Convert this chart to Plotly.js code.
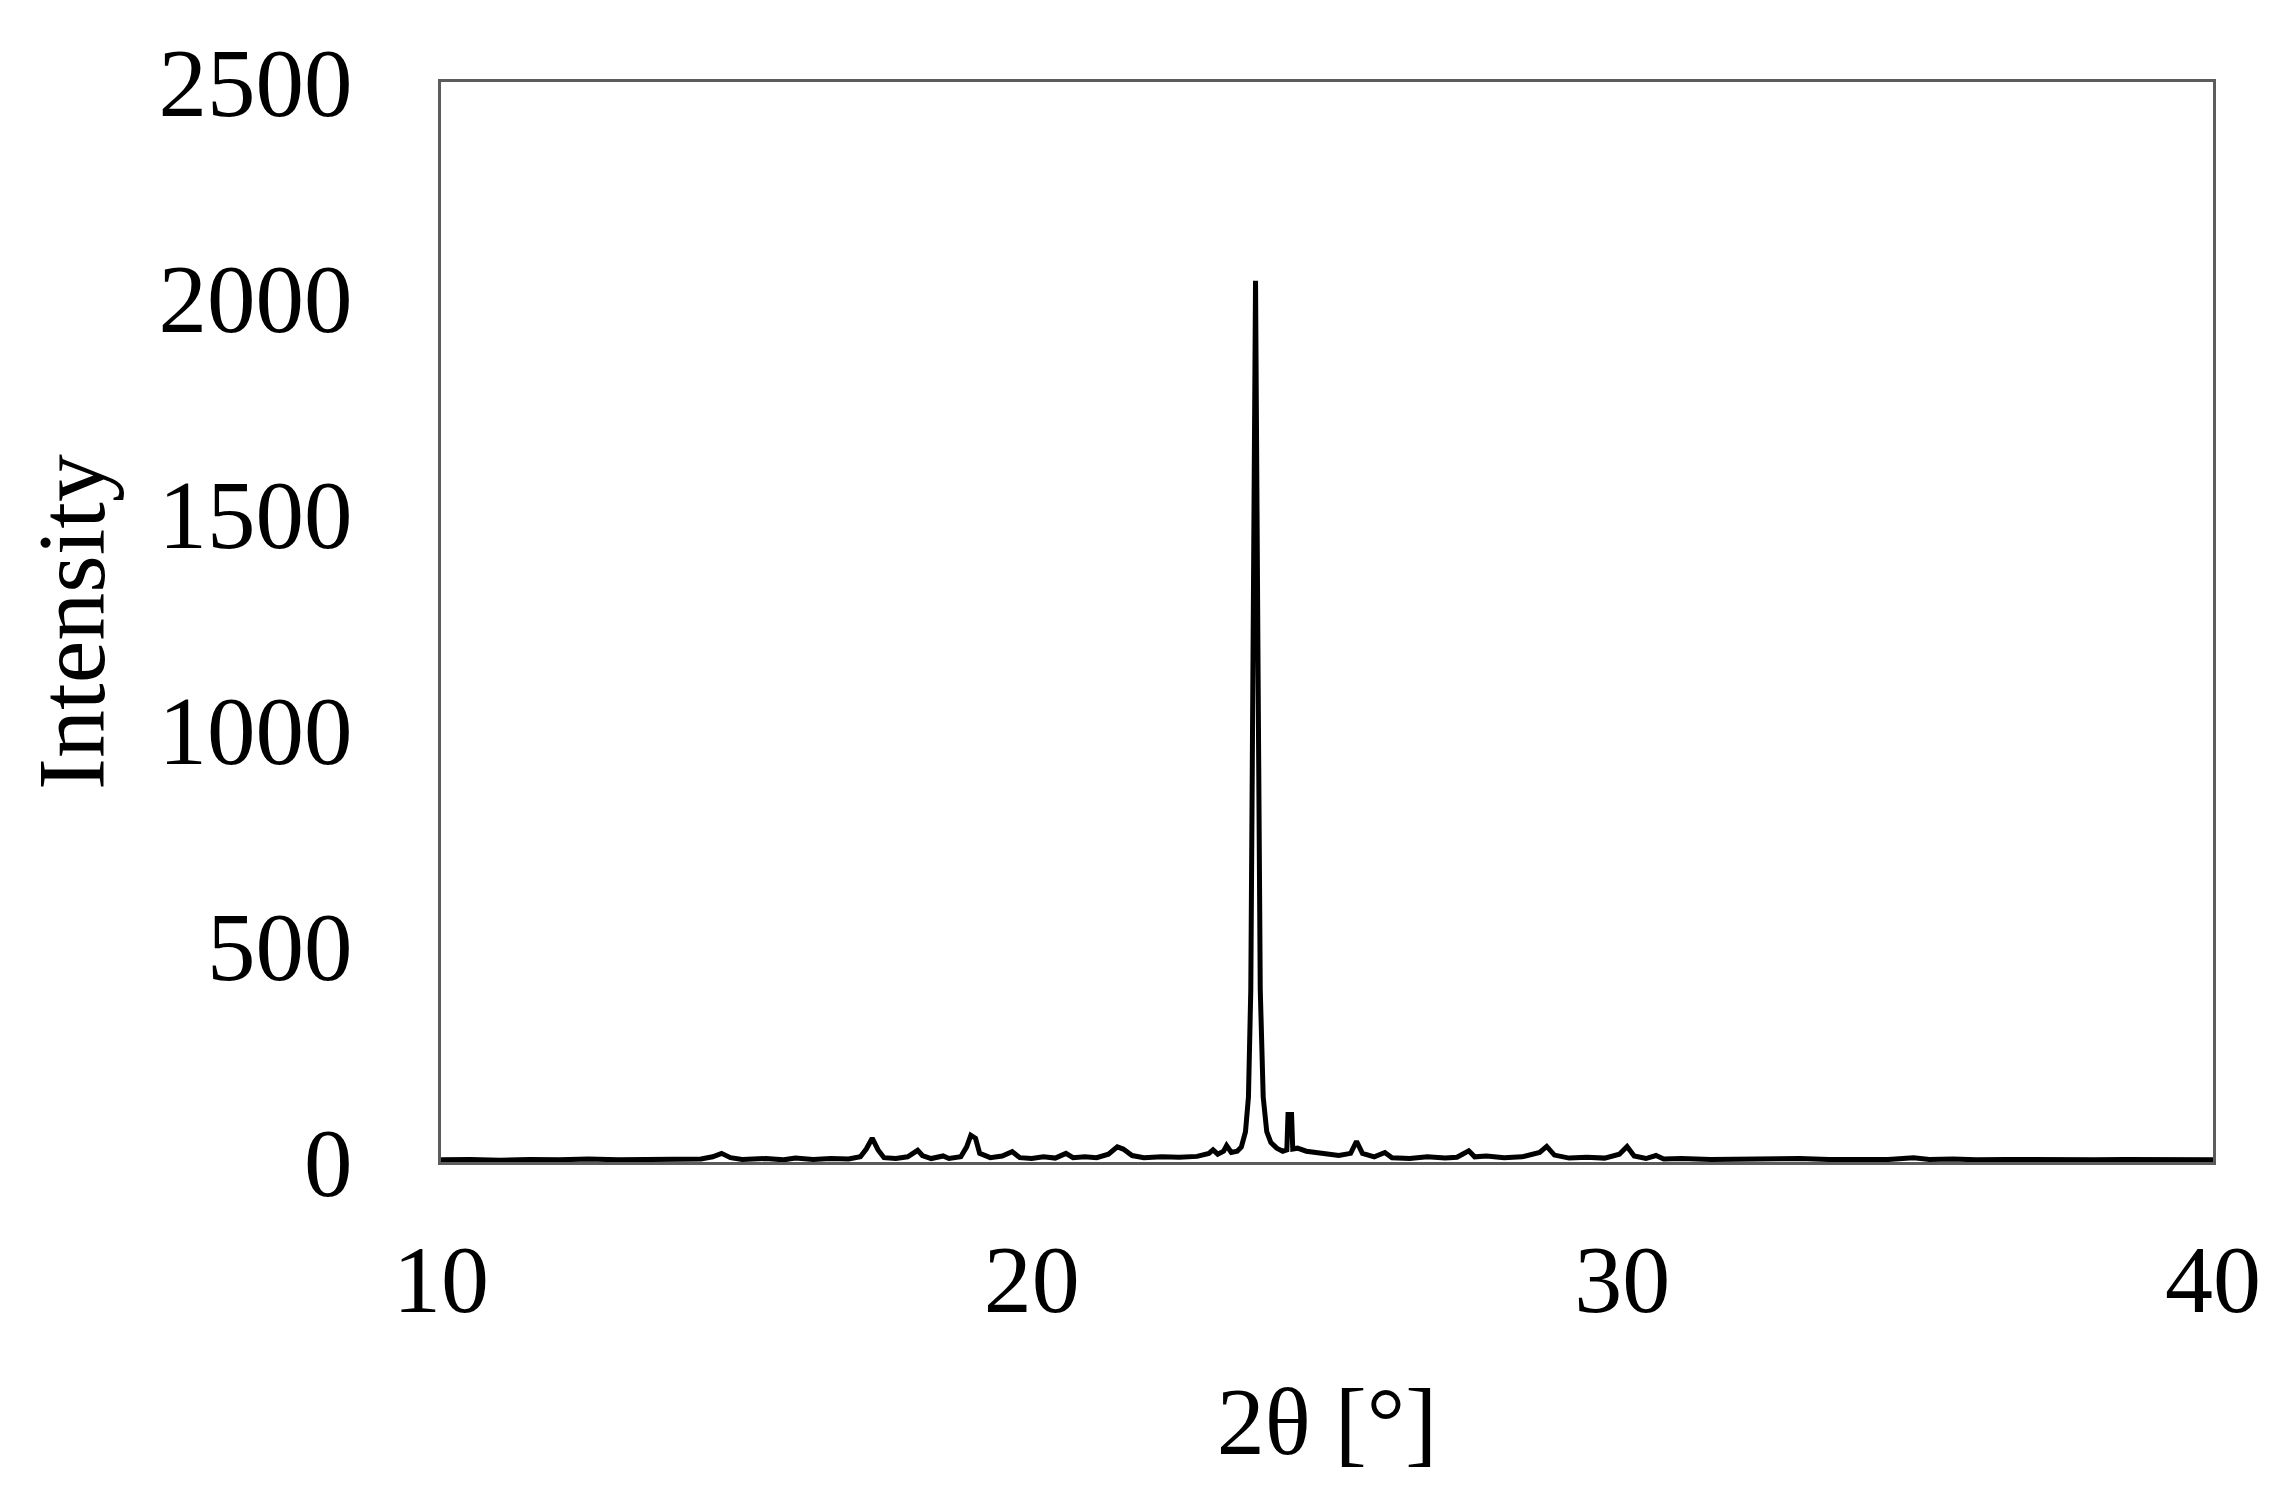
<!DOCTYPE html>
<html>
<head>
<meta charset="utf-8">
<script src="https://cdn.plot.ly/plotly-3.0.1.min.js"></script>
<style>
  html, body { margin: 0; padding: 0; background: #ffffff; }
  #chart { width: 2284px; height: 1495px; }
</style>
</head>
<body>
<div id="chart"></div>
<script>
// 2θ (deg) and intensity
const twoTheta = [
  10.0, 10.5, 11.0, 11.5, 12.0, 12.5, 13.0, 13.5, 14.0, 14.4, 14.6, 14.75, 14.9, 15.1, 15.5, 15.8,
  16.0, 16.3, 16.6, 16.9, 17.1, 17.2, 17.3, 17.4, 17.5, 17.7, 17.9, 18.0, 18.07, 18.15, 18.3, 18.5,
  18.6, 18.8, 18.9, 18.97, 19.05, 19.12, 19.3, 19.5, 19.67, 19.8, 20.0, 20.2, 20.4, 20.58, 20.7, 20.9,
  21.1, 21.3, 21.45, 21.55, 21.7, 21.9, 22.2, 22.5, 22.8, 23.0, 23.07, 23.15, 23.25, 23.3, 23.38, 23.48,
  23.55, 23.62, 23.67, 23.71, 23.75, 23.79, 23.83, 23.87, 23.92, 23.98, 24.05, 24.15, 24.25, 24.32, 24.34,
  24.4, 24.42, 24.5, 24.65, 24.8, 25.0, 25.2, 25.4, 25.5, 25.6, 25.8, 25.98, 26.1, 26.4, 26.7, 27.0,
  27.2, 27.4, 27.5, 27.7, 28.0, 28.3, 28.6, 28.72, 28.85, 29.1, 29.4, 29.7, 29.95, 30.08, 30.2, 30.4,
  30.57, 30.7, 31.0, 31.5, 32.0, 32.5, 33.0, 33.5, 34.0, 34.5, 34.93, 35.2, 35.6, 36.0, 36.5, 37.0,
  37.5, 38.0, 38.5, 39.0, 39.5, 40.0
];
const intensity = [
  5, 6, 4, 6, 5, 7, 5, 6, 5, 7, 12, 20, 10, 6, 8, 5,
  9, 6, 8, 7, 12, 30, 55, 28, 10, 8, 12, 20, 27, 15, 8, 14,
  8, 12, 35, 62, 55, 20, 10, 14, 24, 10, 8, 12, 9, 20, 10, 12,
  10, 18, 35, 30, 15, 10, 12, 11, 13, 20, 28, 18, 25, 38, 22, 25,
  35, 70, 150, 400, 1200, 2040, 1200, 400, 150, 70, 45, 32, 25, 28, 110,
  110, 30, 32, 25, 22, 18, 15, 20, 48, 20, 12, 22, 10, 8, 12, 9,
  11, 26, 12, 14, 10, 12, 22, 36, 16, 9, 11, 9, 18, 36, 14, 8,
  15, 7, 8, 6, 7, 6, 8, 6, 7, 6, 10, 6, 7, 5, 6, 5,
  6, 5, 6, 5, 6, 5
];

const xTicks = [10, 20, 30, 40];
const yTicks = [0, 500, 1000, 1500, 2000, 2500];

const serif = 'Liberation Serif, Times New Roman, serif';
const frameColor = '#5c5c5c';

const data = [{
    x: twoTheta,
    y: intensity,
    type: 'scatter',
    mode: 'lines',
    line: { color: '#000000', width: 5 },
    showlegend: false
}];

const layout = {
    width: 2284,
    height: 1495,
    margin: { l: 441, r: 71, t: 82, b: 333 },
    paper_bgcolor: '#ffffff',
    plot_bgcolor: '#ffffff',
    font: { family: serif, color: '#000000' },
    showlegend: false,
    xaxis: {
        range: [10, 40],
        tickmode: 'array',
        tickvals: xTicks,
        ticks: '',
        ticklabelstandoff: 32,
        tickfont: { family: serif, size: 96, color: '#000000' },
        showgrid: false,
        zeroline: false,
        showline: true,
        mirror: true,
        linecolor: frameColor,
        linewidth: 3,
        title: {
            text: '2θ [°]',
            font: { family: serif, size: 96, color: '#000000' },
            standoff: 55
        }
    },
    yaxis: {
        range: [0, 2500],
        tickmode: 'array',
        tickvals: yTicks,
        ticks: '',
        ticklabelstandoff: 66,
        tickfont: { family: serif, size: 97, color: '#000000' },
        showgrid: false,
        zeroline: false,
        showline: true,
        mirror: true,
        linecolor: frameColor,
        linewidth: 3,
        title: {
            text: 'Intensity',
            font: { family: serif, size: 96, color: '#000000' },
            standoff: 22
        }
    }
};

Plotly.newPlot('chart', data, layout, { displayModeBar: false, staticPlot: true });
</script>
</body>
</html>
